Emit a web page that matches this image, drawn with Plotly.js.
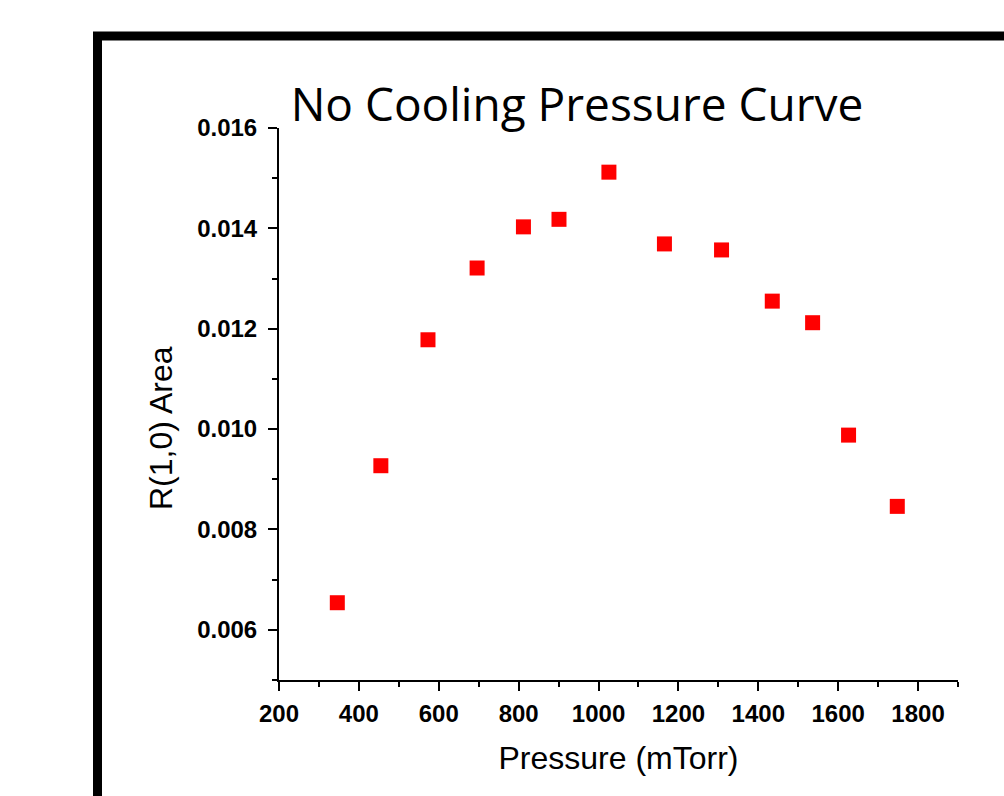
<!DOCTYPE html>
<html>
<head>
<meta charset="utf-8">
<script src="https://cdn.plot.ly/plotly-3.0.1.min.js"></script>
<style>
html,body{margin:0;padding:0;background:#fff;}
#chart{width:1004px;height:796px;}
</style>
</head>
<body>
<div id="chart"></div>
<script>
const pressure = [346, 455, 573, 696, 812, 901, 1026, 1165, 1308, 1435, 1536, 1626, 1748];
const area = [0.00654, 0.00927, 0.01178, 0.01321, 0.01403, 0.01418, 0.01512, 0.01369, 0.01357, 0.01255, 0.01212, 0.00988, 0.00846];
const chartTitle = "No Cooling Pressure Curve";
const xTitle = "Pressure (mTorr)";
const yTitle = "R(1,0) Area";

const trace = {
  x: pressure, y: area, type: 'scatter', mode: 'markers',
  marker: {symbol: 'square', size: 15, color: '#ff0000', line: {width: 0}},
  showlegend: false, hoverinfo: 'x+y'
};

const tickFont = {family: 'Liberation Sans, Arial, sans-serif', size: 24, color: '#000', weight: 'bold'};

const layout = {
  width: 1004, height: 796,
  margin: {l: 279, r: 46, t: 128, b: 116, pad: 0},
  paper_bgcolor: '#fff', plot_bgcolor: '#fff',
  title: {
    text: chartTitle,
    font: {family: 'Open Sans, sans-serif', size: 46, color: '#000'},
    xref: 'paper', x: 0.4389, xanchor: 'center',
    yref: 'container', y: 0.848, yanchor: 'bottom'
  },
  xaxis: {
    range: [200, 1900], tick0: 200, dtick: 200, tickmode: 'linear',
    showgrid: false, zeroline: false,
    showline: true, linecolor: '#000', linewidth: 2,
    ticks: 'outside', ticklen: 9, tickwidth: 2, tickcolor: '#000',
    minor: {ticks: 'outside', ticklen: 5, tickwidth: 2, tickcolor: '#000', dtick: 100, tick0: 200, showgrid: false},
    tickfont: tickFont,
    ticklabelstandoff: 2,
    title: {text: xTitle, font: {family: 'Liberation Sans, Arial, sans-serif', size: 32, color: '#000'}, standoff: 21}
  },
  yaxis: {
    range: [0.005, 0.016], tick0: 0.006, dtick: 0.002, tickmode: 'linear',
    tickformat: '.3f',
    showgrid: false, zeroline: false,
    showline: true, linecolor: '#000', linewidth: 2,
    ticks: 'outside', ticklen: 9, tickwidth: 2, tickcolor: '#000',
    minor: {ticks: 'outside', ticklen: 5, tickwidth: 2, tickcolor: '#000', dtick: 0.001, tick0: 0.005, showgrid: false},
    tickfont: tickFont,
    ticklabelstandoff: 6
  },
  annotations: [{
    text: yTitle, textangle: -90,
    xref: 'paper', x: -0.1738, xanchor: 'center',
    yref: 'paper', y: 0.4565, yanchor: 'middle',
    showarrow: false,
    font: {family: 'Liberation Sans, Arial, sans-serif', size: 32, color: '#000'}
  }],
  shapes: [{
    type: 'rect', xref: 'paper', yref: 'paper',
    x0: -0.2673, x1: 1.2, y0: -0.3, y1: 1.1667,
    line: {color: '#000', width: 9}, fillcolor: 'rgba(0,0,0,0)', layer: 'above'
  }]
};

Plotly.newPlot('chart', [trace], layout, {displayModeBar: false, staticPlot: true});
</script>
</body>
</html>
